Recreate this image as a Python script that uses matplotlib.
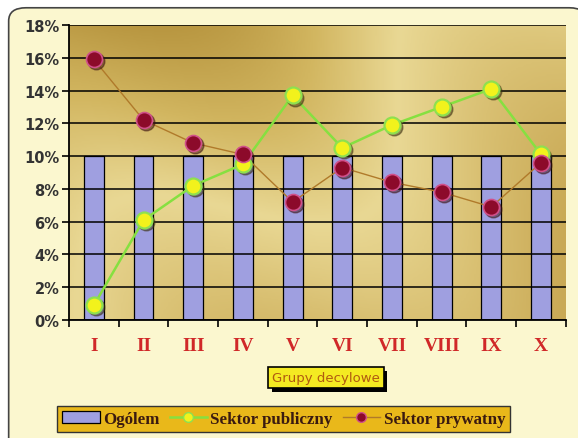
import numpy as np
import matplotlib
matplotlib.use('Agg')
import matplotlib.pyplot as plt
import matplotlib.transforms as mtransforms
from matplotlib.colors import LinearSegmentedColormap
from matplotlib.patches import FancyBboxPatch, Patch, Rectangle
from matplotlib.lines import Line2D

groups = ['I', 'II', 'III', 'IV', 'V', 'VI', 'VII', 'VIII', 'IX', 'X']
ogolem = [10, 10, 10, 10, 10, 10, 10, 10, 10, 10]
publiczny = [0.9, 6.1, 8.2, 9.5, 13.7, 10.5, 11.9, 13.0, 14.1, 10.1]
prywatny = [15.9, 12.2, 10.8, 10.1, 7.2, 9.3, 8.4, 7.8, 6.9, 9.6]
yticks = [0, 2, 4, 6, 8, 10, 12, 14, 16, 18]

fig = plt.figure(figsize=(5.78, 4.39), dpi=100)
fig.patch.set_facecolor('white')

# cream panel with rounded border
panel = FancyBboxPatch((0.015, -0.05), 1.0, 1.03, boxstyle='round,pad=0,rounding_size=0.03',
                       transform=fig.transFigure, facecolor='#fbf7cf', edgecolor='#444444',
                       linewidth=1.2, zorder=-10)
fig.patches.append(panel)

ax = fig.add_axes([0.1194, 0.2688, 0.8596, 0.672])
ax.set_facecolor('none')

# golden gradient background
gold = LinearSegmentedColormap.from_list('gold', ['#b89640', '#d2b660', '#e9d894', '#d9c072', '#c9a955'])
yy, xx = np.mgrid[0:1:200j, 0:1:200j]
grad = 0.55 * xx + 0.45 * (1 - yy) + 0.15 * np.sin(6 * xx + 3 * yy)
ax.imshow(grad, cmap=gold, extent=[0, 1, 0, 1], transform=ax.transAxes,
          aspect='auto', zorder=0, origin='lower')

x = np.arange(len(groups))
ax.set_xlim(-0.5, len(groups) - 0.5)
ax.set_ylim(0, 18)

ax.set_yticks(yticks)
ax.yaxis.grid(True, color='black', linewidth=1.1)
ax.set_axisbelow(False)
for gl in ax.get_ygridlines():
    gl.set_zorder(1)

ax.bar(x, ogolem, width=0.4, color='#9f9fe0', edgecolor='black', linewidth=0.9, zorder=2)

shadow = mtransforms.offset_copy(ax.transData, fig=fig, x=1.5, y=-1.5, units='points')

ax.plot(x, publiczny, color='#86e040', linewidth=1.8, zorder=3)
ax.plot(x, publiczny, 'o', color='#3a3010', alpha=0.5, markersize=12,
        transform=shadow, zorder=3)
ax.plot(x, publiczny, 'o', markerfacecolor='#f2f21c', markeredgecolor='#8ee050',
        markeredgewidth=1.6, markersize=11.5, zorder=4)

ax.plot(x, prywatny, color='#b07a2a', linewidth=1.0, zorder=3)
ax.plot(x, prywatny, 'o', color='#3a1010', alpha=0.5, markersize=12,
        transform=shadow, zorder=3)
ax.plot(x, prywatny, 'o', markerfacecolor='#8c0a2a', markeredgecolor='#d0508a',
        markeredgewidth=1.2, markersize=11.5, zorder=4)

# ticks
ax.set_xticks(np.arange(-0.5, len(groups)), minor=False)
ax.set_xticklabels([])
ax.set_xticks(x, minor=True)
ax.set_xticklabels(groups, minor=True, fontfamily='Liberation Serif',
                   fontweight='bold', fontsize=14, color='#d02828')
ax.tick_params(axis='x', which='major', direction='out', length=5, width=1.2, color='black')
ax.tick_params(axis='x', which='minor', length=0, pad=12)
ax.set_yticklabels([f'{v}%' for v in yticks], fontweight='bold', fontsize=10.5, color='#333333')
ax.tick_params(axis='y', direction='out', length=5, width=1.2, color='black', pad=2)

for side in ['top', 'right']:
    ax.spines[side].set_visible(False)
ax.spines['left'].set_linewidth(1.3)
ax.spines['bottom'].set_linewidth(1.3)
ax.spines['left'].set_zorder(5)
ax.spines['bottom'].set_zorder(5)

# axis title box
label = fig.text(0.564, 0.138, 'Grupy decylowe', ha='center', va='center', fontsize=9.5,
                 color='#b05a10',
                 bbox=dict(boxstyle='square,pad=0.3', facecolor='#f4ea22', edgecolor='black',
                           linewidth=1.2))

# legend
handles = [
    Patch(facecolor='#9f9fe0', edgecolor='black', linewidth=0.9),
    Line2D([], [], color='#86e040', linewidth=1.8, marker='o', markerfacecolor='#f2f21c',
           markeredgecolor='#8ee050', markersize=7),
    Line2D([], [], color='#b07a2a', linewidth=1.0, marker='o', markerfacecolor='#8c0a2a',
           markeredgecolor='#d0508a', markersize=7),
]
leg = fig.legend(handles, ['Ogólem', 'Sektor publiczny', 'Sektor prywatny'],
                 loc='center', bbox_to_anchor=(0.491, 0.043), ncol=3, frameon=True,
                 fancybox=False, handlelength=2.2, handletextpad=0.2, columnspacing=0.6,
                 borderpad=0.3,
                 prop=dict(family='Liberation Serif', weight='bold', size=12.2))
leg.get_frame().set_facecolor('#e9b81a')
leg.get_frame().set_edgecolor('#333333')
leg.get_frame().set_linewidth(1.0)
leg.get_frame().set_alpha(1)
for t in leg.get_texts():
    t.set_color('#3a1a10')

# drop shadow behind the title box
fig.canvas.draw()
bb = label.get_bbox_patch().get_window_extent().transformed(fig.transFigure.inverted())
fig.patches.append(Rectangle((bb.x0 + 0.006, bb.y0 - 0.009), bb.width, bb.height,
                             transform=fig.transFigure, facecolor='black',
                             edgecolor='none', zorder=-1))

fig.savefig('out.png', dpi=100)
